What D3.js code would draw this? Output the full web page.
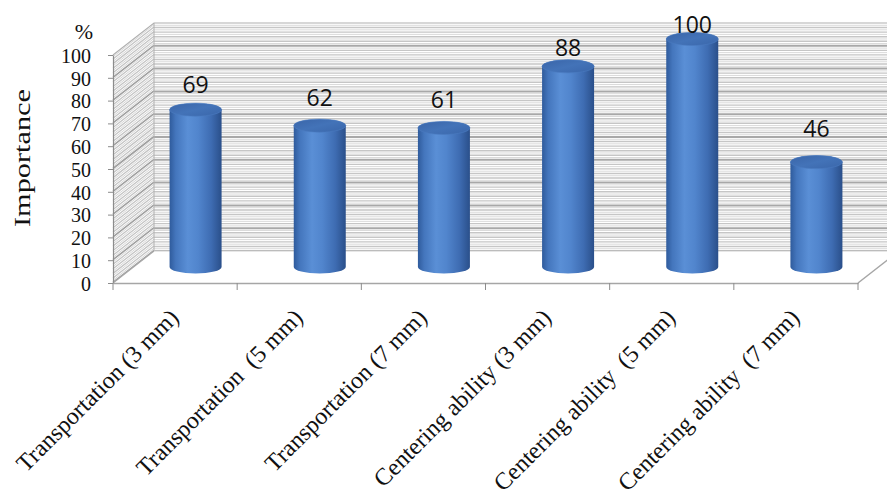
<!DOCTYPE html>
<html>
<head>
<meta charset="utf-8">
<script src="https://cdn.jsdelivr.net/npm/d3@7"></script>
<style>
  html, body { margin: 0; padding: 0; background: #fff; }
  svg { display: block; }
</style>
</head>
<body>
<svg id="chart" width="887" height="500"></svg>
<script>
// ---- data ----
const categories = [
  "Transportation (3 mm)",
  "Transportation  (5 mm)",
  "Transportation (7 mm)",
  "Centering ability (3 mm)",
  "Centering ability  (5 mm)",
  "Centering ability  (7 mm)"
];
const values = [69, 62, 61, 88, 100, 46];
const yTicks = [0, 10, 20, 30, 40, 50, 60, 70, 80, 90, 100];
const yTitle = "Importance";
const yUnit = "%";

(function () {
// ---- layout ----
const W = 887, H = 500;
const pL = 113, pR = 858, pT = 55, pB = 283;
const DX = 41, DY = -32;           // 3-D depth offset
const svg = d3.select("#chart");

const x = d3.scaleBand().domain(categories).range([pL, pR]).padding(0);
const y = d3.scaleLinear().domain([0, 100]).range([pB, pT]);
const yLabel = d3.scaleLinear().domain([0, 100]).range([226, 33]);

const grey = "#a6a6a6";

// defs: cylinder gradients
const defs = svg.append("defs");
const g1 = defs.append("linearGradient").attr("id", "body").attr("x1", 0).attr("x2", 1).attr("y1", 0).attr("y2", 0);
[[0, "#2f5b9c"], [0.12, "#4476bd"], [0.35, "#5a8fd6"], [0.55, "#5185cd"], [0.8, "#3e6cb2"], [1, "#2a4f8a"]]
  .forEach(([o, c]) => g1.append("stop").attr("offset", o).attr("stop-color", c));
const g2 = defs.append("linearGradient").attr("id", "cap").attr("x1", 0).attr("x2", 1).attr("y1", 0).attr("y2", 1);
[[0, "#3a65a8"], [0.5, "#4373b8"], [1, "#3a66aa"]]
  .forEach(([o, c]) => g2.append("stop").attr("offset", o).attr("stop-color", c));

// ---- left wall ----
const wall = svg.append("g");
wall.append("path")
  .attr("d", `M${pL},${y(100)}L${pL + DX},${y(100) + DY}L${pL + DX},${y(0) + DY}L${pL},${y(0)}Z`)
  .attr("fill", "#ffffff");
const fine = d3.range(0, 100, 2);
wall.selectAll("line.lw").data(fine).join("line")
  .attr("x1", pL).attr("y1", d => y(d) - 0.5)
  .attr("x2", pL + DX).attr("y2", d => y(d) + DY - 0.5)
  .attr("stroke", d => d % 10 === 0 ? "#a0a0a0" : "#c4c4c4")
  .attr("stroke-width", d => d % 10 === 0 ? 1.6 : 1.3);
wall.selectAll("line.lw2").data(fine).join("line")
  .attr("x1", pL).attr("y1", d => y(d + 1) - 0.5)
  .attr("x2", pL + DX).attr("y2", d => y(d + 1) + DY - 0.5)
  .attr("stroke", "#d6d6d6").attr("stroke-width", 1);

// ---- back wall ----
const bx0 = pL + DX, bx1 = W + 5;
svg.append("g").selectAll("line").data(fine).join("line")
  .attr("x1", bx0).attr("x2", bx1)
  .attr("y1", d => y(d) + DY).attr("y2", d => y(d) + DY)
  .attr("stroke", d => d % 10 === 0 ? "#a8a8a8" : "#c6c6c6")
  .attr("stroke-width", d => d % 10 === 0 ? 2 : 1.4);
svg.append("g").selectAll("line").data(fine).join("line")
  .attr("x1", bx0).attr("x2", bx1)
  .attr("y1", d => y(d + 1) + DY).attr("y2", d => y(d + 1) + DY)
  .attr("stroke", "#dadada").attr("stroke-width", 1);
// top edge of back wall & left wall
svg.append("path")
  .attr("d", `M${pL},${y(100)}L${bx0},${y(100) + DY}L${bx1},${y(100) + DY}`)
  .attr("fill", "none").attr("stroke", "#b0b0b0").attr("stroke-width", 1.2);
svg.append("line")
  .attr("x1", bx0).attr("x2", bx0).attr("y1", y(100) + DY).attr("y2", y(0) + DY)
  .attr("stroke", "#b0b0b0").attr("stroke-width", 1);

// ---- floor ----
svg.append("path")
  .attr("d", `M${pL},${y(0)}L${bx0},${y(0) + DY}L${pR + DX},${y(0) + DY}L${pR},${y(0)}Z`)
  .attr("fill", "#ffffff");
svg.append("path")
  .attr("d", `M${pL},${y(0)}L${bx0},${y(0) + DY}`)
  .attr("fill", "none").attr("stroke", grey).attr("stroke-width", 1.2);
svg.append("path")
  .attr("d", `M${pR},${y(0)}L${pR + DX},${y(0) + DY}`)
  .attr("fill", "none").attr("stroke", grey).attr("stroke-width", 1.5);
svg.append("line")
  .attr("x1", bx0).attr("x2", bx1).attr("y1", y(0) + DY).attr("y2", y(0) + DY)
  .attr("stroke", "#d0d0d0").attr("stroke-width", 1);

// ---- axes ----
const yAxis = d3.axisLeft(y).tickValues(yTicks).tickSize(5).tickSizeOuter(0).tickFormat(d3.format("d"));
const gy = svg.append("g").attr("transform", `translate(${pL},0)`).call(yAxis);
gy.select(".domain").attr("stroke", "#8c8c8c").attr("stroke-width", 1.2);
gy.selectAll(".tick line").attr("stroke", "#8c8c8c");
gy.selectAll(".tick text")
  .attr("x", -22).attr("dy", "0.36em")
  .attr("font-family", "'Liberation Serif', 'Times New Roman', serif")
  .attr("font-size", 20).attr("fill", "#111");

const xAxis = d3.axisBottom(x).tickSize(0).tickFormat("");
const gx = svg.append("g").attr("transform", `translate(0,${pB})`).call(xAxis);
gx.select(".domain").attr("stroke", grey).attr("stroke-width", 1.5);
const bounds = categories.map(c => x(c)).concat([pR]);
gx.selectAll("line.sep").data(bounds).join("line")
  .attr("x1", d => d).attr("x2", d => d).attr("y1", 0).attr("y2", 7)
  .attr("stroke", "#8c8c8c").attr("stroke-width", 1);

// x labels
svg.append("g").selectAll("text").data(categories).join("text")
  .attr("transform", d => `translate(${x(d) + x.bandwidth() / 2 + 5},${pB + 36}) rotate(-45)`)
  .attr("text-anchor", "end")
  .attr("font-family", "'Liberation Serif', 'Times New Roman', serif")
  .attr("font-size", 24).attr("fill", "#111")
  .style("white-space", "pre")
  .text(d => d);

// y title and unit
svg.append("text")
  .attr("transform", `translate(30,${158}) rotate(-90)`)
  .attr("text-anchor", "middle")
  .attr("font-family", "'Liberation Serif', 'Times New Roman', serif")
  .attr("font-size", 24).attr("fill", "#111")
  .attr("textLength", 138).attr("lengthAdjust", "spacingAndGlyphs")
  .text(yTitle);
svg.append("text")
  .attr("x", 84).attr("y", 39)
  .attr("text-anchor", "middle")
  .attr("font-family", "'Liberation Serif', 'Times New Roman', serif")
  .attr("font-size", 22).attr("fill", "#111")
  .text(yUnit);

// ---- cylinders ----
const rx = 26, ry = 6.5;
const rows = categories.map((c, i) => ({c, v: values[i]}));
const cyl = svg.append("g").selectAll("g").data(rows).join("g");
cyl.append("path")
  .attr("d", d => {
    const cx = x(d.c) + x.bandwidth() / 2 + DX / 2;
    const yb = y(0) + DY / 2, yt = y(d.v) + DY / 2;
    return `M${cx - rx},${yt}L${cx - rx},${yb}A${rx},${ry} 0 0 0 ${cx + rx},${yb}L${cx + rx},${yt}A${rx},${ry} 0 0 0 ${cx - rx},${yt}Z`;
  })
  .attr("fill", "url(#body)");
cyl.append("ellipse")
  .attr("cx", d => x(d.c) + x.bandwidth() / 2 + DX / 2)
  .attr("cy", d => y(d.v) + DY / 2)
  .attr("rx", rx).attr("ry", ry)
  .attr("fill", "url(#cap)")
  .attr("stroke", "#4a7bc0").attr("stroke-width", 0.6);

// value labels
svg.append("g").selectAll("text").data(rows).join("text")
  .attr("x", d => x(d.c) + x.bandwidth() / 2 + DX / 2)
  .attr("y", d => yLabel(d.v))
  .attr("text-anchor", "middle")
  .attr("font-family", "'Open Sans', 'Noto Sans', sans-serif")
  .attr("font-size", 23).attr("fill", "#111")
  .text(d => d.v);
})();
</script>
</body>
</html>
